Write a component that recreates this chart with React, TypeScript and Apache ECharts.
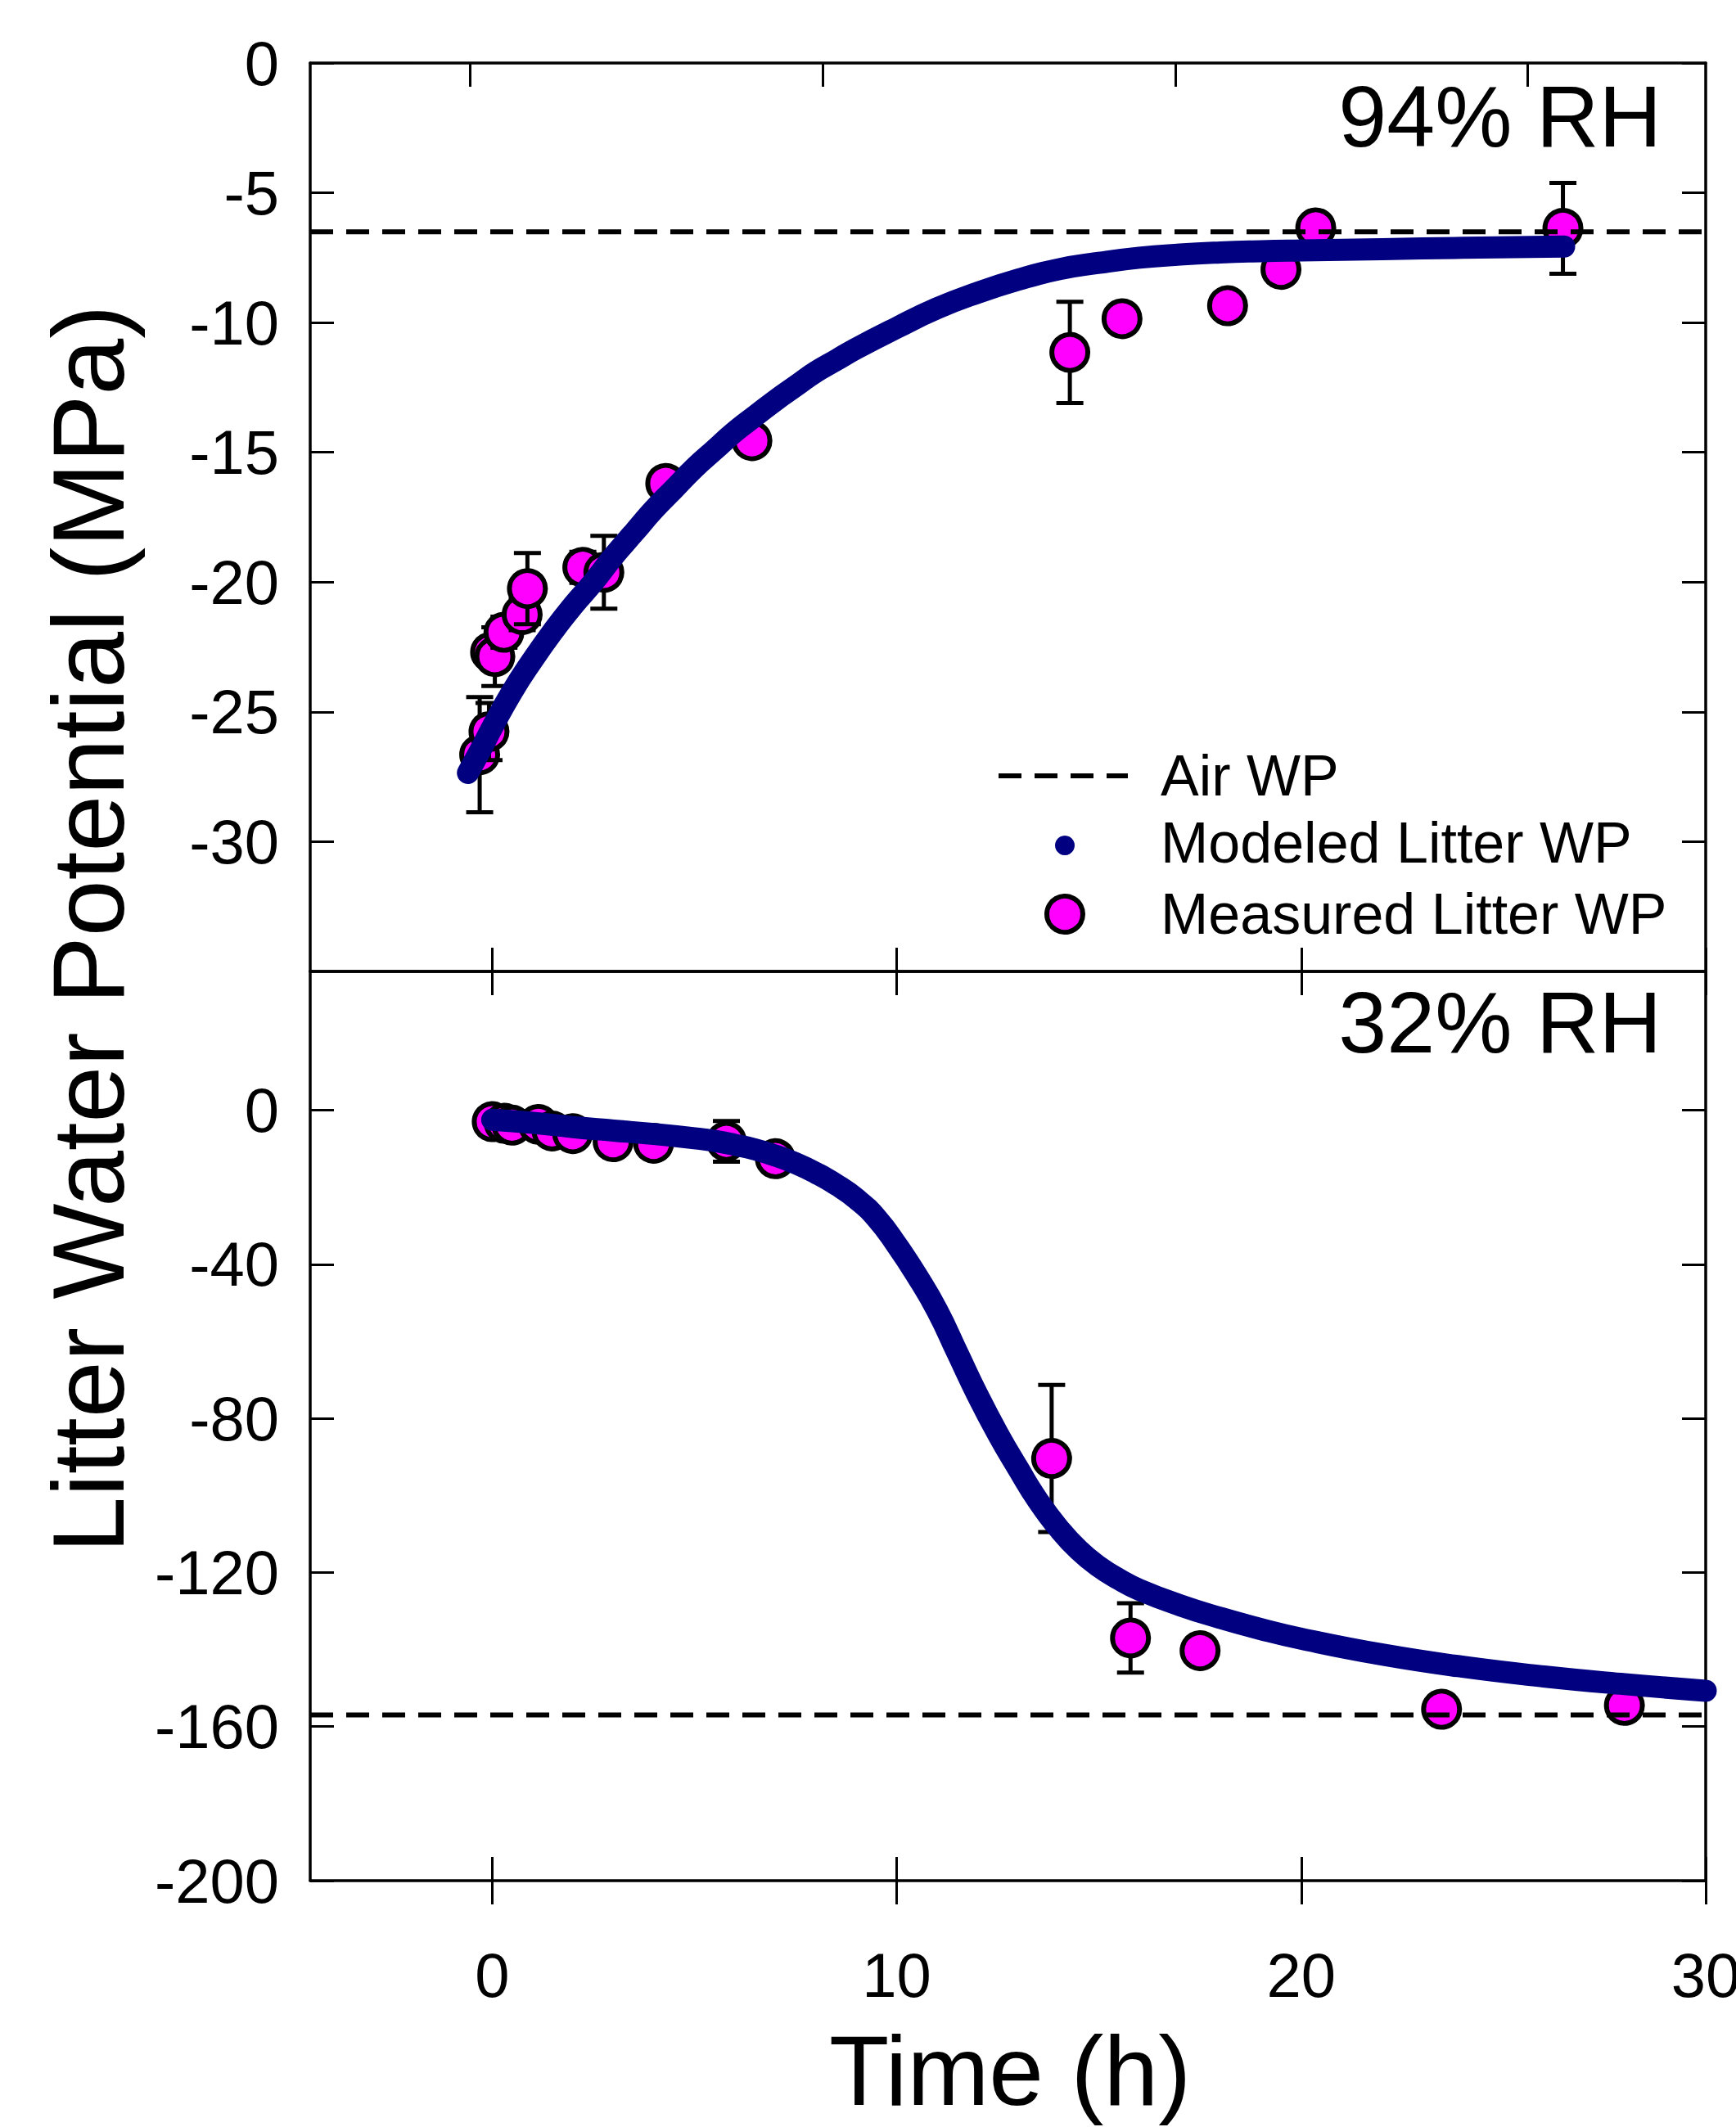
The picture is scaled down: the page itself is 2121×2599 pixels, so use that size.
import React, { useEffect, useRef } from "react";
import * as echarts from "echarts";

// ---------- data ----------
const xTicks = [0, 10, 20, 30];
const topBorderTicks = [-0.54, 8.17, 16.9, 25.6];
const topYTicks = [0, -5, -10, -15, -20, -25, -30];
const bottomYTicks = [0, -40, -80, -120, -160, -200];

const airWPTop = -6.5;
const airWPBottom = -157;

// 94% RH modeled
const modeledTopT = [-0.6, -0.3, 0, 0.5, 1.0, 1.5, 2.0, 2.5, 3.0, 3.5, 4.0, 4.5, 5.0, 5.5, 6.0, 6.5, 7.0, 7.5, 8.0, 8.5, 9.0, 10.0, 11.0, 12.0, 13.0, 14.0, 15.0, 16.0, 17.0, 18.0, 19.0, 20.0, 22.0, 24.0, 26.5];
const modeledTopWP = [-27.35, -26.5, -25.6, -24.2, -23.0, -21.9, -20.9, -20.0, -19.0, -18.1, -17.2, -16.4, -15.6, -14.9, -14.2, -13.6, -13.0, -12.45, -11.9, -11.45, -11.0, -10.2, -9.45, -8.85, -8.35, -7.95, -7.7, -7.5, -7.38, -7.3, -7.25, -7.22, -7.17, -7.12, -7.07];

// 94% RH measured
const measuredTopT = [-0.31, -0.08, -0.04, 0.065, 0.29, 0.74, 0.87, 2.24, 2.76, 4.29, 6.42, 14.28, 15.57, 18.18, 19.5, 20.36, 26.47];
const measuredTopWP = [-26.65, -25.76, -22.7, -22.87, -21.93, -21.25, -20.25, -19.43, -19.62, -16.2, -14.55, -11.15, -9.85, -9.35, -7.95, -6.35, -6.37];
const measuredTopErr = [2.22, 1.1, 0.5, 1.13, 0.6, 0.6, 1.37, 0.6, 1.4, 0.5, 0.5, 1.95, 0.5, 0.5, 0.5, 0.5, 1.75];

// 32% RH modeled
const modeledBotT = [0, 1, 2, 3, 4, 5, 5.5, 6, 6.5, 7, 7.5, 8, 8.5, 9, 9.5, 10, 10.5, 11, 11.5, 12, 12.5, 13, 13.5, 14, 14.5, 15, 15.5, 16, 17, 18, 19, 20, 22, 24, 26, 28, 30];
const modeledBotWP = [-2.5, -3.3, -4.4, -5.3, -6.2, -7.3, -8.0, -9.0, -10.2, -11.8, -13.8, -16.3, -19.3, -23.0, -28.0, -35, -43, -52, -63, -74, -84, -93, -101.5, -108.5, -114.2, -118.5, -121.8, -124.5, -128.5, -131.8, -134.7, -137.2, -141.3, -144.5, -147, -149, -150.7];

// 32% RH measured
const measuredBotT = [0.0, 0.3, 0.49, 1.14, 1.48, 1.99, 2.99, 3.99, 5.79, 7.0, 13.83, 15.78, 17.5, 23.47, 27.99];
const measuredBotWP = [-3.0, -3.4, -3.9, -3.7, -5.4, -6.1, -8.2, -8.6, -8.1, -12.6, -90.4, -137.0, -140.3, -155.5, -154.5];
const measuredBotErr = [1, 1, 1, 1, 1, 1, 1, 1, 5.3, 1, 19.1, 9.0, 1, 1, 1];

// ---------- styles ----------
const FONT = "'Liberation Sans', Arial, Helvetica, sans-serif";
const NAVY = "#000080";
const MAGENTA = "#FF00FF";
const X_MIN = -4.5;
const X_MAX = 30;

const G_LEFT = 379;
const G_WIDTH = 1705;
const TOP_TOP = 77;
const TOP_H = 1110;
const BOT_TOP = 1187;
const BOT_H = 1111;

const AXIS_W = 3.5;
const MARK_R = 22;
const MARK_BORDER = 6;

function xAxisBase(gridIndex: number, position: string, ticks: number[], inside: boolean, extra: any = {}) {
  return {
    type: "value",
    gridIndex,
    position,
    min: X_MIN,
    max: X_MAX,
    splitLine: { show: false },
    axisLine: { show: true, onZero: false, lineStyle: { color: "#000", width: AXIS_W } },
    axisTick: { show: true, inside, length: 29, lineStyle: { color: "#000", width: 3 }, customValues: ticks },
    axisLabel: { show: false },
    ...extra,
  };
}

function yAxisBase(gridIndex: number, position: string, min: number, max: number, ticks: number[], labels: boolean) {
  return {
    type: "value",
    gridIndex,
    position,
    min,
    max,
    splitLine: { show: false },
    axisLine: { show: true, onZero: false, lineStyle: { color: "#000", width: AXIS_W } },
    axisTick: { show: true, inside: true, length: 29, lineStyle: { color: "#000", width: 3 }, customValues: ticks },
    axisLabel: labels
      ? { show: true, customValues: ticks, fontSize: 76, fontFamily: FONT, color: "#000", margin: 38, showMinLabel: true, showMaxLabel: true }
      : { show: false },
  };
}

function errRender(params: any, api: any) {
  const x = api.value(0);
  const y = api.value(1);
  const e = api.value(2);
  const c = api.coord([x, y]);
  const t = api.coord([x, y + e]);
  const b = api.coord([x, y - e]);
  const cap = 16.5;
  const ls = { stroke: "#000", lineWidth: 5 };
  const children: any[] = [
    { type: "line", shape: { x1: c[0], y1: t[1], x2: c[0], y2: b[1] }, style: ls },
    { type: "line", shape: { x1: c[0] - cap, y1: t[1], x2: c[0] + cap, y2: t[1] }, style: ls },
    { type: "line", shape: { x1: c[0] - cap, y1: b[1], x2: c[0] + cap, y2: b[1] }, style: ls },
    { type: "circle", shape: { cx: c[0], cy: c[1], r: MARK_R }, style: { fill: MAGENTA, stroke: "#000", lineWidth: MARK_BORDER } },
  ];
  return { type: "group", children };
}

export default function App() {
  const ref = useRef<HTMLDivElement>(null);

  useEffect(() => {
    document.body.style.margin = "0";
    if (!ref.current) return;
    const chart = echarts.init(ref.current, null, { renderer: "svg" });

    const topModeled = modeledTopT.map((t, i) => [t, modeledTopWP[i]]);
    const botModeled = modeledBotT.map((t, i) => [t, modeledBotWP[i]]);
    const topMeasured = measuredTopT.map((t, i) => [t, measuredTopWP[i], measuredTopErr[i]]);
    const botMeasured = measuredBotT.map((t, i) => [t, measuredBotWP[i], measuredBotErr[i]]);

    const modeledStyle = { color: NAVY, width: 27, cap: "round", join: "round" };

    const option: any = {
      animation: false,
      backgroundColor: "#fff",
      grid: [
        { left: G_LEFT, top: TOP_TOP, width: G_WIDTH, height: TOP_H, containLabel: false, outerBoundsMode: "none" },
        { left: G_LEFT, top: BOT_TOP, width: G_WIDTH, height: BOT_H, containLabel: false, outerBoundsMode: "none" },
      ],
      xAxis: [
        xAxisBase(0, "bottom", xTicks, true),
        xAxisBase(0, "top", topBorderTicks, true),
        xAxisBase(1, "top", xTicks, true),
        xAxisBase(1, "bottom", xTicks, true, {
          axisLabel: { show: true, customValues: xTicks, fontSize: 76, fontFamily: FONT, color: "#000", margin: 77 },
        }),
        xAxisBase(1, "bottom", xTicks, false, { axisLine: { show: false, onZero: false } }),
      ],
      yAxis: [
        yAxisBase(0, "left", -35, 0, topYTicks, true),
        yAxisBase(0, "right", -35, 0, topYTicks, false),
        yAxisBase(1, "left", -200, 36, bottomYTicks, true),
        yAxisBase(1, "right", -200, 36, bottomYTicks, false),
      ],
      series: [
        {
          type: "line",
          xAxisIndex: 0,
          yAxisIndex: 0,
          data: [[X_MIN, airWPTop], [X_MAX, airWPTop]],
          symbol: "none",
          lineStyle: { color: "#000", width: 6, type: [28, 16] },
          silent: true,
        },
        {
          type: "line",
          xAxisIndex: 3,
          yAxisIndex: 2,
          data: [[X_MIN, airWPBottom], [X_MAX, airWPBottom]],
          symbol: "none",
          lineStyle: { color: "#000", width: 6, type: [28, 16] },
          silent: true,
        },
        {
          type: "line",
          xAxisIndex: 0,
          yAxisIndex: 0,
          data: topModeled,
          symbol: "none",
          smooth: 0.5,
          clip: false,
          lineStyle: modeledStyle,
        },
        {
          type: "line",
          xAxisIndex: 3,
          yAxisIndex: 2,
          data: botModeled,
          symbol: "none",
          smooth: 0.5,
          clip: false,
          lineStyle: modeledStyle,
        },
        {
          type: "custom",
          xAxisIndex: 0,
          yAxisIndex: 0,
          data: topMeasured,
          encode: { x: 0, y: 1 },
          renderItem: errRender,
          clip: false,
        },
        {
          type: "custom",
          xAxisIndex: 3,
          yAxisIndex: 2,
          data: botMeasured,
          encode: { x: 0, y: 1 },
          renderItem: errRender,
          clip: false,
        },
      ],
      graphic: [
        {
          type: "text",
          x: 108,
          y: 1135,
          rotation: Math.PI / 2,
          style: { text: "Litter Water Potential (MPa)", fontSize: 124, fontFamily: FONT, fill: "#000", align: "center", verticalAlign: "middle" },
        },
        {
          type: "text",
          x: 1234,
          y: 2530,
          style: { text: "Time (h)", fontSize: 120, fontFamily: FONT, fill: "#000", align: "center", verticalAlign: "middle" },
        },
        {
          type: "text",
          x: 2030,
          y: 142,
          style: { text: "94% RH", fontSize: 106, fontFamily: FONT, fill: "#000", align: "right", verticalAlign: "middle" },
        },
        {
          type: "text",
          x: 2030,
          y: 1249,
          style: { text: "32% RH", fontSize: 106, fontFamily: FONT, fill: "#000", align: "right", verticalAlign: "middle" },
        },
        {
          type: "line",
          shape: { x1: 1220, y1: 948, x2: 1378, y2: 948 },
          style: { stroke: "#000", lineWidth: 6, lineDash: [28, 16] },
        },
        {
          type: "text",
          x: 1418,
          y: 948,
          style: { text: "Air WP", fontSize: 70, fontFamily: FONT, fill: "#000", align: "left", verticalAlign: "middle" },
        },
        {
          type: "circle",
          shape: { cx: 1301, cy: 1033, r: 12 },
          style: { fill: NAVY },
        },
        {
          type: "text",
          x: 1418,
          y: 1030,
          style: { text: "Modeled Litter WP", fontSize: 70, fontFamily: FONT, fill: "#000", align: "left", verticalAlign: "middle" },
        },
        {
          type: "circle",
          shape: { cx: 1301, cy: 1117, r: MARK_R },
          style: { fill: MAGENTA, stroke: "#000", lineWidth: MARK_BORDER },
        },
        {
          type: "text",
          x: 1418,
          y: 1117,
          style: { text: "Measured Litter WP", fontSize: 70, fontFamily: FONT, fill: "#000", align: "left", verticalAlign: "middle" },
        },
      ],
    };

    chart.setOption(option);
    return () => {
      chart.dispose();
    };
  }, []);

  return <div ref={ref} style={{ width: 2121, height: 2599 }} />;
}
